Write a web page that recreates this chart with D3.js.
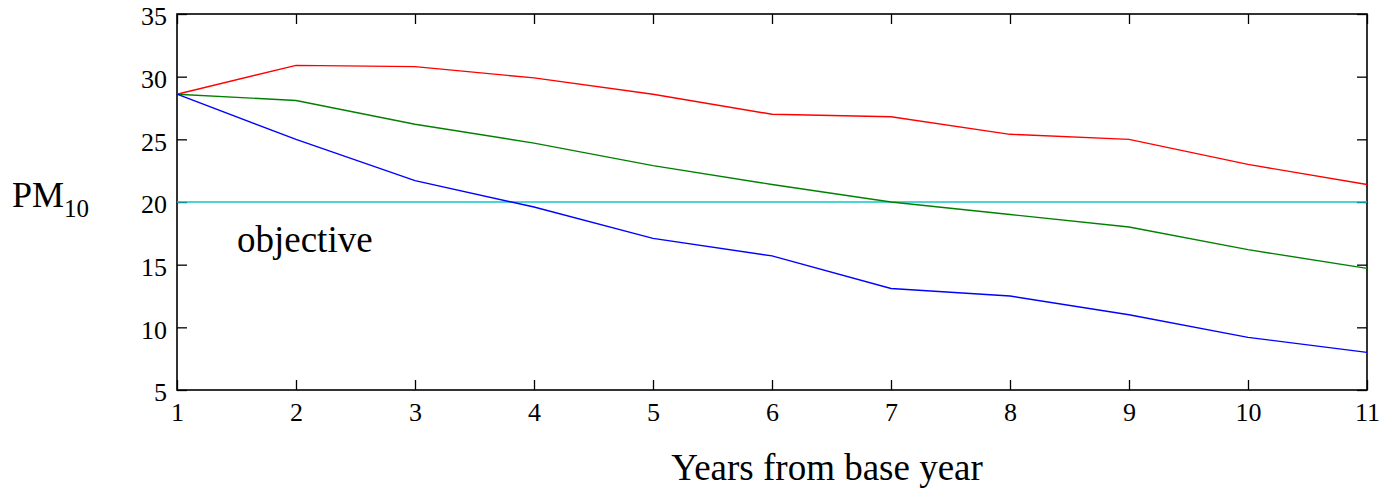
<!DOCTYPE html>
<html>
    <head>
        <meta charset="utf-8">
        <script src="https://d3js.org/d3.v7.min.js"></script>
        <style>
            body { margin: 0; background: #fff; }
            svg { display: block; font-family: "Liberation Serif", "Times New Roman", serif; }
        </style>
    </head>
    <body>
        <svg width="1384" height="489"></svg>

        <script>
            // years from base year
            var years = [1, 2, 3, 4, 5, 6, 7, 8, 9, 10, 11];

            // PM10 scenarios
            var high = [28.6, 30.9, 30.8, 29.9, 28.6, 27.0, 26.8, 25.4, 25.0, 23.0, 21.4];
            var mid  = [28.6, 28.1, 26.2, 24.7, 22.9, 21.4, 20.0, 19.0, 18.0, 16.2, 14.7];
            var low  = [28.6, 25.0, 21.7, 19.6, 17.1, 15.7, 13.1, 12.5, 11.0, 9.2, 8.0];
            var objective = 20;

            var yTicks = [5, 10, 15, 20, 25, 30, 35];

            var root = d3.select('svg');
            var L = 177, R = 1367, T = 14, B = 390;

            var x = d3.scaleLinear().domain([1, 11]).range([L, R]);
            var y = d3.scaleLinear().domain([5, 35]).range([B, T]);

            // frame
            root.append('rect')
                .attr('x', L).attr('y', T)
                .attr('width', R - L).attr('height', B - T)
                .attr('fill', 'none')
                .attr('stroke', '#000')
                .attr('stroke-width', 1.6);

            // bottom axis, inner ticks
            var xAxis = d3.axisBottom(x).tickValues(years).tickSize(-10).tickPadding(13);
            var gx = root.append('g').attr('transform', 'translate(0,' + B + ')').call(xAxis);
            // top mirror ticks
            var gxt = root.append('g').attr('transform', 'translate(0,' + T + ')')
                .call(d3.axisTop(x).tickValues(years).tickSize(-10).tickFormat(''));

            var yAxis = d3.axisLeft(y).tickValues(yTicks).tickSize(-10).tickPadding(10);
            var gy = root.append('g').attr('transform', 'translate(' + L + ',0)').call(yAxis);
            var gyr = root.append('g').attr('transform', 'translate(' + R + ',0)')
                .call(d3.axisRight(y).tickValues(yTicks).tickSize(-10).tickFormat(''));

            [gx, gxt, gy, gyr].forEach(function (g) {
                g.attr('font-size', 26)
                    .attr('font-family', '"Liberation Serif", serif');
                g.select('.domain').remove();
                g.selectAll('line').attr('stroke', '#000').attr('stroke-width', 1.3);
                g.selectAll('text').attr('fill', '#000');
            });
            gy.selectAll('text').attr('dy', '0.42em');

            // objective line
            root.append('line')
                .attr('x1', x(1)).attr('x2', x(11))
                .attr('y1', y(objective)).attr('y2', y(objective))
                .attr('stroke', '#12c4c8')
                .attr('stroke-width', 1.5);

            var line = d3.line()
                .x(function (d, i) { return x(years[i]); })
                .y(function (d) { return y(d); });

            var series = [
                { values: high, color: '#ff0000' },
                { values: mid, color: '#008000' },
                { values: low, color: '#0000ff' }
            ];

            root.selectAll('path.series').data(series).enter()
                .append('path')
                .attr('class', 'series')
                .attr('d', function (d) { return line(d.values); })
                .attr('fill', 'none')
                .attr('stroke', function (d) { return d.color; })
                .attr('stroke-width', 1.4);

            // labels
            root.append('text')
                .attr('x', 237).attr('y', 252)
                .style('font-size', '37px')
                .text('objective');

            var pm = root.append('text')
                .attr('x', 12).attr('y', 207)
                .style('font-size', '36px');
            pm.append('tspan').text('PM');
            pm.append('tspan').attr('dy', 10).style('font-size', '25px').text('10');

            root.append('text')
                .attr('x', 827).attr('y', 480)
                .attr('text-anchor', 'middle')
                .style('font-size', '37px')
                .text('Years from base year');
        </script>
    </body>
</html>
